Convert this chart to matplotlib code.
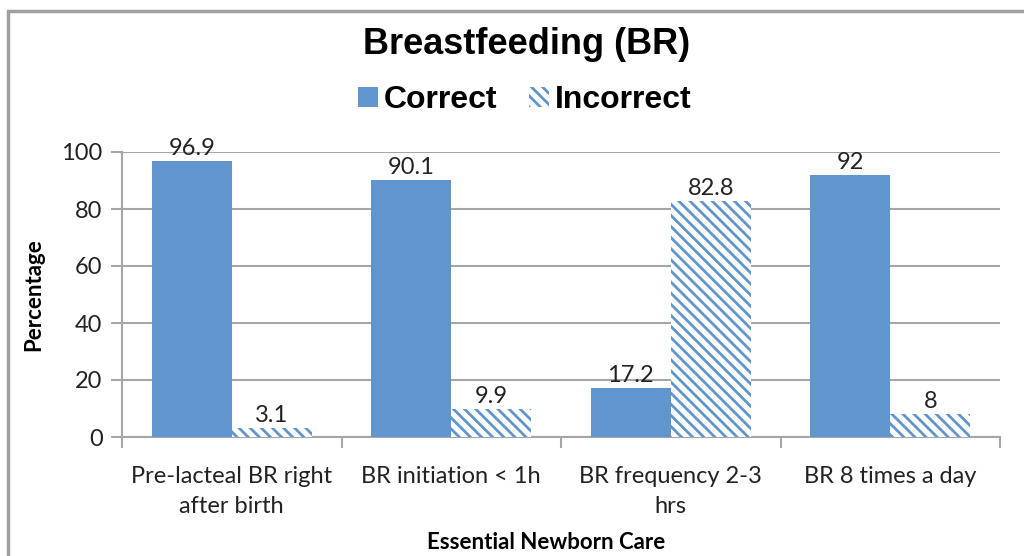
import matplotlib.pyplot as plt
import matplotlib.patches as mpatches
import numpy as np

plt.rcParams['font.family'] = ['Lato', 'DejaVu Sans']
plt.rcParams['hatch.linewidth'] = 2.0

categories = ['Pre-lacteal BR right\nafter birth', 'BR initiation < 1h',
              'BR frequency 2-3\nhrs', 'BR 8 times a day']
correct = [96.9, 90.1, 17.2, 92]
incorrect = [3.1, 9.9, 82.8, 8]
correct_labels = ['96.9', '90.1', '17.2', '92']
incorrect_labels = ['3.1', '9.9', '82.8', '8']

blue = '#6096CD'
grid_gray = '#A6A6A6'

fig = plt.figure(figsize=(10.24, 5.56), dpi=100)
ax = fig.add_axes([122/1024, 1-437/556, 878/1024, 285/556])

# outer chart frame
fig.patches.append(mpatches.Rectangle((8/1024, -0.05), 1.1, 1 - 11/556 + 0.05,
                                      transform=fig.transFigure, fill=False,
                                      edgecolor='#A0A0A0', linewidth=2.5))

x = np.arange(len(categories))
w = 0.364
b1 = ax.bar(x - w/2, correct, w, color=blue, linewidth=0, zorder=3)
b2 = ax.bar(x + w/2, incorrect, w, color='white', edgecolor=blue, hatch='\\\\\\',
            linewidth=0, zorder=3)

for rect, lab in zip(b1, correct_labels):
    ax.text(rect.get_x() + rect.get_width()/2, rect.get_height() + 0.8, lab,
            ha='center', va='bottom', fontsize=17, color='#222222')
for rect, lab in zip(b2, incorrect_labels):
    ax.text(rect.get_x() + rect.get_width()/2, rect.get_height() + 0.8, lab,
            ha='center', va='bottom', fontsize=17, color='#222222')

ax.set_xlim(-0.5, 3.5)
ax.set_ylim(0, 100)
ax.set_yticks(range(0, 101, 20))
ax.yaxis.grid(True, color=grid_gray, linewidth=1.5, zorder=0)
ax.set_axisbelow(True)

ax.set_xticks(x)
ax.set_xticklabels(categories, fontsize=17, color='#222222', linespacing=1.5)
ax.set_xticks(np.arange(-0.5, 4, 1), minor=True)
ax.tick_params(axis='x', which='major', length=0, pad=21)
ax.tick_params(axis='x', which='minor', length=8, width=1.5, color=grid_gray)
ax.tick_params(axis='y', length=8, width=1.5, color=grid_gray, labelsize=17,
               labelcolor='#222222', pad=6)

for s in ['top', 'right']:
    ax.spines[s].set_visible(False)
ax.spines['left'].set_color(grid_gray)
ax.spines['left'].set_linewidth(1.5)
ax.spines['bottom'].set_color(grid_gray)
ax.spines['bottom'].set_linewidth(1.5)

ax.set_ylabel('Percentage', fontsize=16, fontweight='bold')
ax.yaxis.set_label_coords(-0.089, 0.5)
ax.set_xlabel('Essential Newborn Care', fontsize=16, fontweight='bold')
ax.xaxis.set_label_coords((546 - 122) / 878, -0.335)

fig.text(527/1024, 1-45/556, 'Breastfeeding (BR)', ha='center', va='center',
         fontsize=26, fontweight='bold', family=['Liberation Sans', 'DejaVu Sans'])
fig.legend([b1, b2], ['Correct', 'Incorrect'], loc='center',
           bbox_to_anchor=(525/1024, 1-100/556), ncol=2, frameon=False,
           prop={'family': ['Liberation Sans', 'DejaVu Sans'], 'weight': 'bold', 'size': 23},
           handlelength=0.6, handleheight=0.6, handletextpad=0.2, columnspacing=1.0)

fig.savefig('out.png', dpi=100)
